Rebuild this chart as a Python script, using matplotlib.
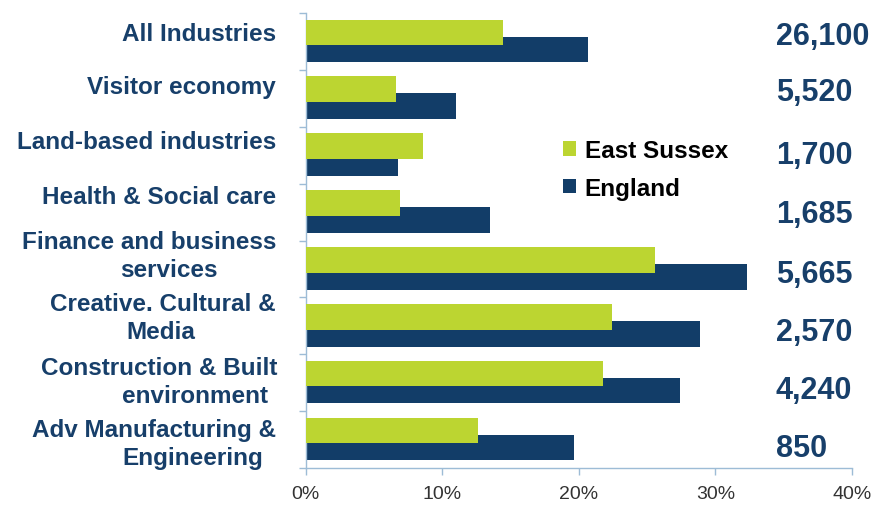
import matplotlib
matplotlib.use("Agg")
import matplotlib.pyplot as plt
import numpy as np

categories = ["All Industries", "Visitor economy", "Land-based industries",
              "Health & Social care", "Finance and business\nservices",
              "Creative. Cultural &\nMedia", "Construction & Built\nenvironment",
              "Adv Manufacturing &\nEngineering"]
east_sussex = [14.45, 6.6, 8.6, 6.95, 25.6, 22.4, 21.8, 12.6]
england = [20.7, 11.0, 6.75, 13.5, 32.3, 28.9, 27.4, 19.65]
counts = ["26,100", "5,520", "1,700", "1,685", "5,665", "2,570", "4,240", "850"]
xticks = [0, 10, 20, 30, 40]
xtick_labels = ["0%", "10%", "20%", "30%", "40%"]

GREEN = "#bcd531"
NAVY = "#123d68"
TEXT_NAVY = "#173f6a"
AXIS = "#9dbcd6"

W, H = 875, 506
fig = plt.figure(figsize=(W / 100, H / 100), dpi=100)
ax = fig.add_axes([305.5 / W, 1 - 469 / H, (852 - 305.5) / W, (469 - 14) / H])

y = np.arange(len(categories))
bh = 0.45
ax.barh(y + 0.14, england, height=bh, color=NAVY, label="England", zorder=2)
ax.barh(y - 0.16, east_sussex, height=bh, color=GREEN, label="East Sussex", zorder=3)

ax.set_ylim(len(categories) - 0.5, -0.5)
ax.set_xlim(0, 40)
ax.set_xticks(xticks)
ax.set_xticklabels(xtick_labels, fontsize=14, color="#333333", family="Liberation Sans")
ax.set_yticks(np.arange(len(categories) + 1) - 0.5)
ax.set_yticklabels([])
for s in ["top", "right"]:
    ax.spines[s].set_visible(False)
for s in ["left", "bottom"]:
    ax.spines[s].set_color(AXIS)
    ax.spines[s].set_linewidth(1.0)
ax.tick_params(axis="both", color=AXIS, length=5, width=1.0)
ax.tick_params(axis="x", pad=7)

# category labels (pixel layout)
label_layout = [
    [(276, 32)],
    [(276, 85)],
    [(276, 140)],
    [(276, 195)],
    [(276, 240), (218, 268)],
    [(276, 302), (195, 330)],
    [(277, 366), (268, 394)],
    [(276, 428), (263, 456)],
]
for cat, pos in zip(categories, label_layout):
    for line, (px, py) in zip(cat.split("\n"), pos):
        fig.text(px / W, 1 - py / H, line, ha="right", va="center_baseline",
                 fontsize=17.5, fontweight="bold", color=TEXT_NAVY,
                 family="Liberation Sans")

count_y = [33, 89, 152.5, 211, 271, 329, 387.5, 446]
for c, py in zip(counts, count_y):
    fig.text(776 / W, 1 - py / H, c, ha="left", va="center_baseline",
             fontsize=22, fontweight="bold", color=TEXT_NAVY,
             family="Liberation Sans")

handles, labels = ax.get_legend_handles_labels()
leg = fig.legend(handles[::-1], labels[::-1], loc="upper left",
                 bbox_to_anchor=(563 / W, 1 - 140 / H), frameon=False,
                 prop={"family": "Liberation Sans", "weight": "bold", "size": 17.5},
                 handlelength=0.55, handleheight=0.55, handletextpad=0.35,
                 labelspacing=0.6, borderpad=0, borderaxespad=0)

fig.savefig("out.png", dpi=100)
